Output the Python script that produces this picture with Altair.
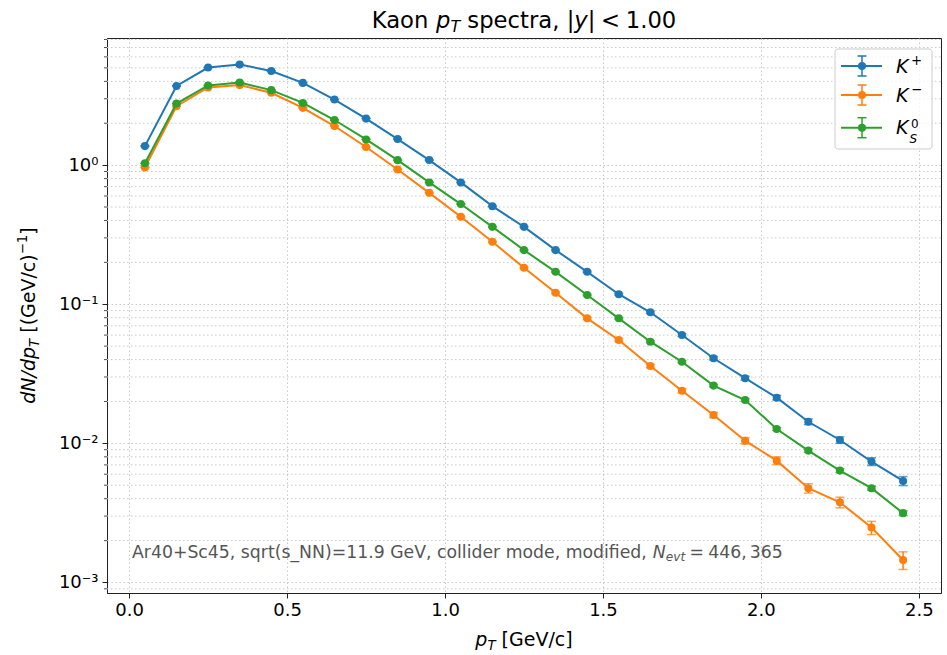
import altair as alt
import pandas as pd

# ---------------- data ----------------
pt = [0.05, 0.15, 0.25, 0.35, 0.45, 0.55, 0.65, 0.75, 0.85, 0.95, 1.05, 1.15, 1.25,
      1.35, 1.45, 1.55, 1.65, 1.75, 1.85, 1.95, 2.05, 2.15, 2.25, 2.35, 2.45]

kplus = [1.37, 3.71, 5.03, 5.29, 4.75, 3.90, 2.96, 2.16, 1.54, 1.087, 0.751, 0.507, 0.360,
         0.245, 0.171, 0.118, 0.0875, 0.0601, 0.0409, 0.0294, 0.0213, 0.0143, 0.01057, 0.0074, 0.00537]
kminus = [0.962, 2.65, 3.62, 3.76, 3.31, 2.58, 1.91, 1.35, 0.931, 0.632, 0.426, 0.281, 0.183,
          0.121, 0.0792, 0.0553, 0.0360, 0.0239, 0.0160, 0.01045, 0.00751, 0.00476, 0.00377, 0.00248, 0.00145]
k0s = [1.03, 2.77, 3.74, 3.93, 3.46, 2.80, 2.11, 1.53, 1.086, 0.751, 0.525, 0.360, 0.245,
       0.171, 0.1164, 0.0792, 0.0538, 0.0386, 0.0260, 0.0205, 0.01268, 0.00887, 0.00637, 0.00476, 0.00315]

kplus_err = [0.0063, 0.0104, 0.0122, 0.0125, 0.0118, 0.0107, 0.0093, 0.0080, 0.0067, 0.0057, 0.0047, 0.0039, 0.0033,
             0.0027, 0.0022, 0.0019, 0.0016, 0.0013, 0.0011, 0.0009, 0.0008, 0.00065, 0.00056, 0.00047, 0.0004]
kminus_err = [0.0053, 0.0088, 0.0103, 0.0105, 0.0099, 0.0087, 0.0075, 0.0063, 0.0052, 0.0043, 0.0035, 0.0029, 0.0023,
              0.0019, 0.0015, 0.0013, 0.0010, 0.00084, 0.00069, 0.00055, 0.00047, 0.00037, 0.00033, 0.00027, 0.00021]
k0s_err = [0.0040, 0.0065, 0.0076, 0.0078, 0.0073, 0.0066, 0.0057, 0.0049, 0.0041, 0.0034, 0.0028, 0.0024, 0.0020,
           0.0016, 0.0013, 0.0011, 0.0009, 0.0007, 0.0005, 0.00045, 0.0003, 0.00025, 0.0002, 0.00015, 0.00012]

series_names = ["K+", "K-", "K0S"]
series_vals = [kplus, kminus, k0s]
series_errs = [kplus_err, kminus_err, k0s_err]
colors = ["#1f77b4", "#ff7f0e", "#2ca02c"]

x_ticks = [0.0, 0.5, 1.0, 1.5, 2.0, 2.5]
y_major = [1, 0.1, 0.01, 0.001]
y_minor = [0.0009,
           0.002, 0.003, 0.004, 0.005, 0.006, 0.007, 0.008, 0.009,
           0.02, 0.03, 0.04, 0.05, 0.06, 0.07, 0.08, 0.09,
           0.2, 0.3, 0.4, 0.5, 0.6, 0.7, 0.8, 0.9,
           2, 3, 4, 5, 6, 7, 8]

annotation_text = "Ar40+Sc45, sqrt(s_NN)=11.9 GeV, collider mode, modified, "
n_evt_text = "446,"
n_evt_text2 = "365"

# ---------------- layout ----------------
W, H = 834, 555
PAD_L, PAD_T = 107, 38
FONT = "DejaVu Sans"
GRID_COLOR = "#c8c8c8"
GRID_DASH = [1.5, 2.5]
AX_COLOR = "#222222"

xscale = alt.Scale(domain=[-0.07, 2.57], nice=False, zero=False)
yscale = alt.Scale(type="log", domain=[0.00084, 8.2], nice=False)

xaxis = alt.Axis(values=x_ticks, format=".1f", title=None, tickSize=5, tickColor=AX_COLOR,
                 tickWidth=1, labelFont=FONT, labelFontSize=18, labelColor="#000000",
                 labelPadding=3, labelFlush=False, grid=True, gridColor=GRID_COLOR,
                 gridDash=GRID_DASH, gridWidth=1, domainColor=AX_COLOR, domainWidth=1)
yaxis = alt.Axis(values=y_major, title=None, tickSize=5, tickColor=AX_COLOR, tickWidth=1,
                 labelFont=FONT, labelFontSize=18, labelColor="#000000", labelPadding=4,
                 labelExpr="datum.value >= 0.5 ? '10⁰' : datum.value >= 0.05 ? '10⁻¹' : "
                           "datum.value >= 0.005 ? '10⁻²' : '10⁻³'",
                 labelFlush=False, grid=True, gridColor=GRID_COLOR, gridDash=GRID_DASH,
                 gridWidth=1, domainColor=AX_COLOR, domainWidth=1)

W_EM = {' ': .318, ',': .318, '.': .318, '|': .337, '/': .337, '(': .390, ')': .390,
        '[': .390, ']': .390, '+': .838, '=': .838, '<': .838, '−': .838, '_': .5,
        'A': .684, 'G': .775, 'K': .656, 'N': .748, 'S': .635, 'T': .611, 'V': .684,
        'a': .613, 'c': .550, 'd': .635, 'e': .615, 'f': .352, 'i': .278, 'l': .278,
        'm': .974, 'n': .634, 'o': .612, 'p': .635, 'q': .635, 'r': .411, 's': .521,
        't': .392, 'v': .592, 'y': .592}
for d in "0123456789":
    W_EM[d] = .636


def run(segments, size):
    out, pos = [], 0.0
    for s in segments:
        if s[0] is None:
            pos += s[1] * size
            continue
        text, italic, scale, shift = s
        fs = size * scale
        stripped = text.lstrip(" ")
        pos += (len(text) - len(stripped)) * W_EM[' '] * fs
        out.append((pos, stripped.rstrip(" "), italic, fs, shift * size))
        pos += sum(W_EM.get(ch, 0.6) for ch in stripped) * fs
    return out, pos


one = alt.Data(values=[{}])


def txt(x, y, text, size, italic=False, color="#000000", angle=0, align="left"):
    kw = dict(text=text, align=align, baseline="alphabetic", font=FONT, fontSize=size,
              color=color)
    if italic:
        kw["fontStyle"] = "italic"
    if angle:
        kw["angle"] = angle
    return alt.Chart(one).mark_text(**kw).encode(x=alt.value(x), y=alt.value(y))


def hrun(segments, size, x0, base, color="#000000", center=False):
    parts, total = run(segments, size)
    if center:
        x0 = x0 - total / 2
    return [txt(x0 + p, base + sh, t, fs, it, color) for p, t, it, fs, sh in parts]


def vrun(segments, size, y_center, base_x):
    parts, total = run(segments, size)
    y0 = y_center + total / 2
    return [txt(base_x + sh, y0 - p, t, fs, it, angle=270) for p, t, it, fs, sh in parts]


layers = []

# minor grid lines and minor ticks (through the y scale)
minor_df = pd.DataFrame({"v": y_minor})
layers.append(alt.Chart(minor_df).mark_rule(color=GRID_COLOR, strokeDash=GRID_DASH, strokeWidth=1)
              .encode(y=alt.Y("v:Q", scale=yscale, axis=yaxis), x=alt.value(0), x2=alt.value(W)))
layers.append(alt.Chart(minor_df).mark_rule(color=AX_COLOR, strokeWidth=0.8)
              .encode(y=alt.Y("v:Q", scale=yscale, axis=yaxis), x=alt.value(-3), x2=alt.value(0)))

# data series
for name, vals, errs, col in zip(series_names, series_vals, series_errs, colors):
    df = pd.DataFrame({"pt": pt, "val": vals, "err": errs})
    df["lo"] = df["val"] - df["err"]
    df["hi"] = df["val"] + df["err"]
    base = alt.Chart(df)
    X = alt.X("pt:Q", scale=xscale, axis=xaxis)
    layers.append(base.mark_rule(color=col, strokeWidth=1.5)
                  .encode(x=X, y=alt.Y("lo:Q", scale=yscale, axis=yaxis), y2="hi:Q"))
    layers.append(base.mark_tick(color=col, orient="horizontal", size=9, thickness=1.5)
                  .encode(x=X, y=alt.Y("lo:Q", scale=yscale, axis=yaxis)))
    layers.append(base.mark_tick(color=col, orient="horizontal", size=9, thickness=1.5)
                  .encode(x=X, y=alt.Y("hi:Q", scale=yscale, axis=yaxis)))
    layers.append(base.mark_line(color=col, strokeWidth=2)
                  .encode(x=X, y=alt.Y("val:Q", scale=yscale, axis=yaxis)))
    layers.append(base.mark_circle(color=col, size=65, opacity=1)
                  .encode(x=X, y=alt.Y("val:Q", scale=yscale, axis=yaxis)))

# title
title_segs = [("Kaon ", False, 1, 0), ("p", True, 1, 0), ("T", True, 0.7, 0.19),
              (" spectra, ", False, 1, 0), ("|", False, 1, 0), ("y", True, 1, 0),
              ("|", False, 1, 0), (None, 0.25), ("<", False, 1, 0), (None, 0.25),
              ("1.00", False, 1, 0)]
layers += hrun(title_segs, 22.7, W / 2, 28 - PAD_T, center=True)

# x label
xl_segs = [("p", True, 1, 0), ("T", True, 0.7, 0.19), (" [GeV/c]", False, 1, 0)]
layers += hrun(xl_segs, 19, W / 2, 646 - PAD_T, center=True)

# y label
yl_segs = [("dN/dp", True, 1, 0), ("T", True, 0.7, 0.19), (" [(GeV/c)", False, 1, 0),
           ("−1", False, 0.7, -0.42), ("]", False, 1, 0)]
layers += vrun(yl_segs, 19, H / 2, 35 - PAD_L)

# annotation
ann_segs = [(annotation_text, False, 1, 0), ("N", True, 1, 0), ("evt", True, 0.7, 0.19),
            (None, 0.25), ("=", False, 1, 0), (None, 0.25), (n_evt_text, False, 1, 0),
            (None, 0.17), (n_evt_text2, False, 1, 0)]
layers += hrun(ann_segs, 17.3, 132 - PAD_L, 558 - PAD_T, color="#555555")

# legend
layers.append(alt.Chart(one).mark_rect(fill="white", fillOpacity=0.8, stroke="#cccccc",
                                       strokeWidth=1, cornerRadius=3)
              .encode(x=alt.value(728), x2=alt.value(825), y=alt.value(11), y2=alt.value(111)))
legend_rows = [28, 57, 89.7]
label_segs = {
    "K+": [("+", -0.41)],
    "K-": [("−", -0.41)],
    "K0S": [("0", -0.34), ("S", 0.44)],
}
for name, col, ry in zip(series_names, colors, legend_rows):
    layers.append(alt.Chart(one).mark_rule(color=col, strokeWidth=2)
                  .encode(x=alt.value(734), x2=alt.value(775), y=alt.value(ry)))
    layers.append(alt.Chart(one).mark_rule(color=col, strokeWidth=1.5)
                  .encode(x=alt.value(755), y=alt.value(ry - 10), y2=alt.value(ry + 10)))
    for dy in (-10, 10):
        layers.append(alt.Chart(one).mark_rule(color=col, strokeWidth=1.5)
                      .encode(x=alt.value(750.5), x2=alt.value(759.5), y=alt.value(ry + dy)))
    layers.append(alt.Chart(one).mark_circle(color=col, size=65, opacity=1)
                  .encode(x=alt.value(755), y=alt.value(ry)))
    kb = ry + 6.7
    layers.append(txt(789, kb, "K", 19, italic=True))
    for s, sh in label_segs[name]:
        it = s == "S"
        fs = 13.3 if name != "K0S" else 12
        layers.append(txt(804 if not it else 802.5, kb + sh * 19, s, fs, italic=it))

chart = alt.layer(*layers).properties(
    width=W, height=H,
    autosize=alt.AutoSizeParams(type="none"),
    padding={"left": PAD_L, "top": PAD_T, "right": 947 - PAD_L - W, "bottom": 655 - PAD_T - H},
    background="white",
).configure_view(stroke=AX_COLOR, strokeWidth=1)

chart.save("out.html", embed_options={"renderer": "svg", "actions": False})
